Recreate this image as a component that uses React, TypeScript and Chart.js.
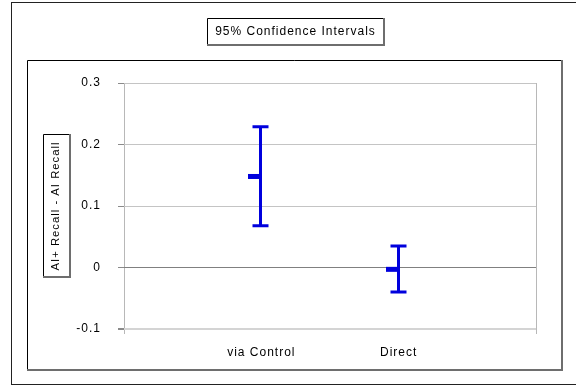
import React, { useEffect, useRef } from "react";
import { Chart, registerables } from "chart.js";

Chart.register(...registerables);

const categories = ["via Control", "Direct"];
const means = [0.148, -0.003];
const lows = [0.068, -0.04];
const highs = [0.229, 0.035];
const yTicks = { min: -0.1, max: 0.3, step: 0.1 };
const chartTitle = "95% Confidence Intervals";
const yTitle = "AI+ Recall - AI Recall";

const FONT = "'Liberation Sans', Arial, sans-serif";
const BLUE = "#0000dd";

function shadowBox(ctx: CanvasRenderingContext2D, l: number, t: number, r: number, b: number) {
  ctx.save();
  ctx.strokeStyle = "#000";
  ctx.lineWidth = 1;
  ctx.beginPath();
  ctx.moveTo(l + 0.5, b);
  ctx.lineTo(l + 0.5, t + 0.5);
  ctx.lineTo(r, t + 0.5);
  ctx.stroke();
  ctx.fillStyle = "#6e6e6e";
  ctx.fillRect(r - 1, t, 2, b - t + 1);
  ctx.fillRect(l, b - 1, r - l + 1, 2);
  ctx.restore();
}

const framePlugin = {
  id: "frames",
  beforeUpdate(chart: any) {
    chart.ctx.letterSpacing = "1px";
  },
  beforeDraw(chart: any) {
    const ctx = chart.ctx as CanvasRenderingContext2D;
    ctx.letterSpacing = "1px";
    ctx.save();
    ctx.fillStyle = "#fff";
    ctx.fillRect(0, 0, chart.width, chart.height);
    ctx.strokeStyle = "#222";
    ctx.lineWidth = 1;
    ctx.strokeRect(11.5, 2.5, 620, 382);
    ctx.restore();
    shadowBox(ctx, 27, 60, 562, 370);
    shadowBox(ctx, 207, 18, 384, 45);
    shadowBox(ctx, 43, 134, 70, 277);
  },
};

const errorBarPlugin = {
  id: "errorBars",
  afterDatasetsDraw(chart: any) {
    const ctx = chart.ctx as CanvasRenderingContext2D;
    const xs = chart.scales.x;
    const ys = chart.scales.y;
    ctx.save();
    ctx.strokeStyle = BLUE;
    ctx.fillStyle = BLUE;
    categories.forEach((_, i) => {
      const x = Math.round(xs.getPixelForValue(i + 1));
      const yh = ys.getPixelForValue(highs[i]);
      const yl = ys.getPixelForValue(lows[i]);
      const ym = ys.getPixelForValue(means[i]);
      ctx.lineWidth = 3;
      ctx.beginPath();
      ctx.moveTo(x - 0.5, yh);
      ctx.lineTo(x - 0.5, yl);
      ctx.stroke();
      ctx.beginPath();
      ctx.moveTo(x - 8.5, yh);
      ctx.lineTo(x + 7.5, yh);
      ctx.moveTo(x - 8.5, yl);
      ctx.lineTo(x + 7.5, yl);
      ctx.stroke();
      ctx.fillRect(x - 13, ym - 2.5, 12, 5);
    });
    ctx.restore();
  },
};

export default function App() {
  const ref = useRef<HTMLCanvasElement | null>(null);
  useEffect(() => {
    if (!ref.current) return;
    Chart.defaults.font.family = FONT;
    Chart.defaults.font.size = 12;
    Chart.defaults.color = "#000";
    const labels = ["", ...categories, ""];
    const chart = new Chart(ref.current, {
      type: "line",
      data: {
        labels,
        datasets: [
          {
            label: "Mean",
            data: [null, ...means, null],
            showLine: false,
            pointRadius: 0,
            borderColor: BLUE,
            backgroundColor: BLUE,
          },
        ],
      },
      options: {
        responsive: false,
        animation: false,
        events: [],
        layout: { padding: { top: 18, left: 15, right: 0, bottom: 0 } },
        plugins: {
          legend: { display: false },
          tooltip: { enabled: false },
          title: {
            display: true,
            text: chartTitle,
            color: "#000",
            font: { size: 12, weight: "normal", family: FONT },
            padding: { top: 6.3, bottom: 44.3 },
          },
        },
        scales: {
          x: {
            type: "category",
            offset: false,
            afterFit: (s: any) => {
              s.height = 57;
            },
            grid: {
              color: (c: any) =>
                c.index === 0 || c.index === labels.length - 1 ? "#b8b8b8" : "rgba(0,0,0,0)",
              tickLength: 5,
              drawOnChartArea: true,
            },
            border: { display: false },
            ticks: { autoSkip: false, maxRotation: 0, padding: 11, color: "#000", font: { size: 12 } },
          },
          y: {
            type: "linear",
            position: "left",
            min: yTicks.min,
            max: yTicks.max,
            afterFit: (s: any) => {
              s.width = 109;
            },
            border: { display: false },
            grid: {
              color: (c: any) => {
                const v = Math.round(c.tick.value * 10) / 10;
                if (v === 0) return "#808080";
                if (v === yTicks.min) return "#d4d4d4";
                return "#c4c4c4";
              },
              lineWidth: (c: any) => {
                const v = Math.round(c.tick.value * 10) / 10;
                return v === yTicks.min ? 2 : 1;
              },
              tickColor: "#8a8a8a",
              tickLength: 6,
            },
            ticks: {
              stepSize: yTicks.step,
              padding: 17,
              color: "#000",
              font: { size: 12 },
              callback: (v: any) => String(Math.round(Number(v) * 10) / 10),
            },
            title: {
              display: true,
              text: yTitle,
              color: "#000",
              font: { size: 11.3, family: FONT },
              padding: { top: 34.6, bottom: 0 },
            },
          },
          y2: {
            type: "linear",
            position: "right",
            display: true,
            afterFit: (s: any) => {
              s.width = 40;
            },
            grid: { display: false, drawTicks: false },
            border: { display: false },
            ticks: { display: false },
          },
        },
      },
      plugins: [framePlugin, errorBarPlugin],
    } as any);
    return () => chart.destroy();
  }, []);
  return (
    <div style={{ position: "fixed", left: 0, top: 0, width: 576, height: 386, background: "#fff" }}>
      <canvas ref={ref} width={576} height={386} style={{ display: "block" }} />
    </div>
  );
}
